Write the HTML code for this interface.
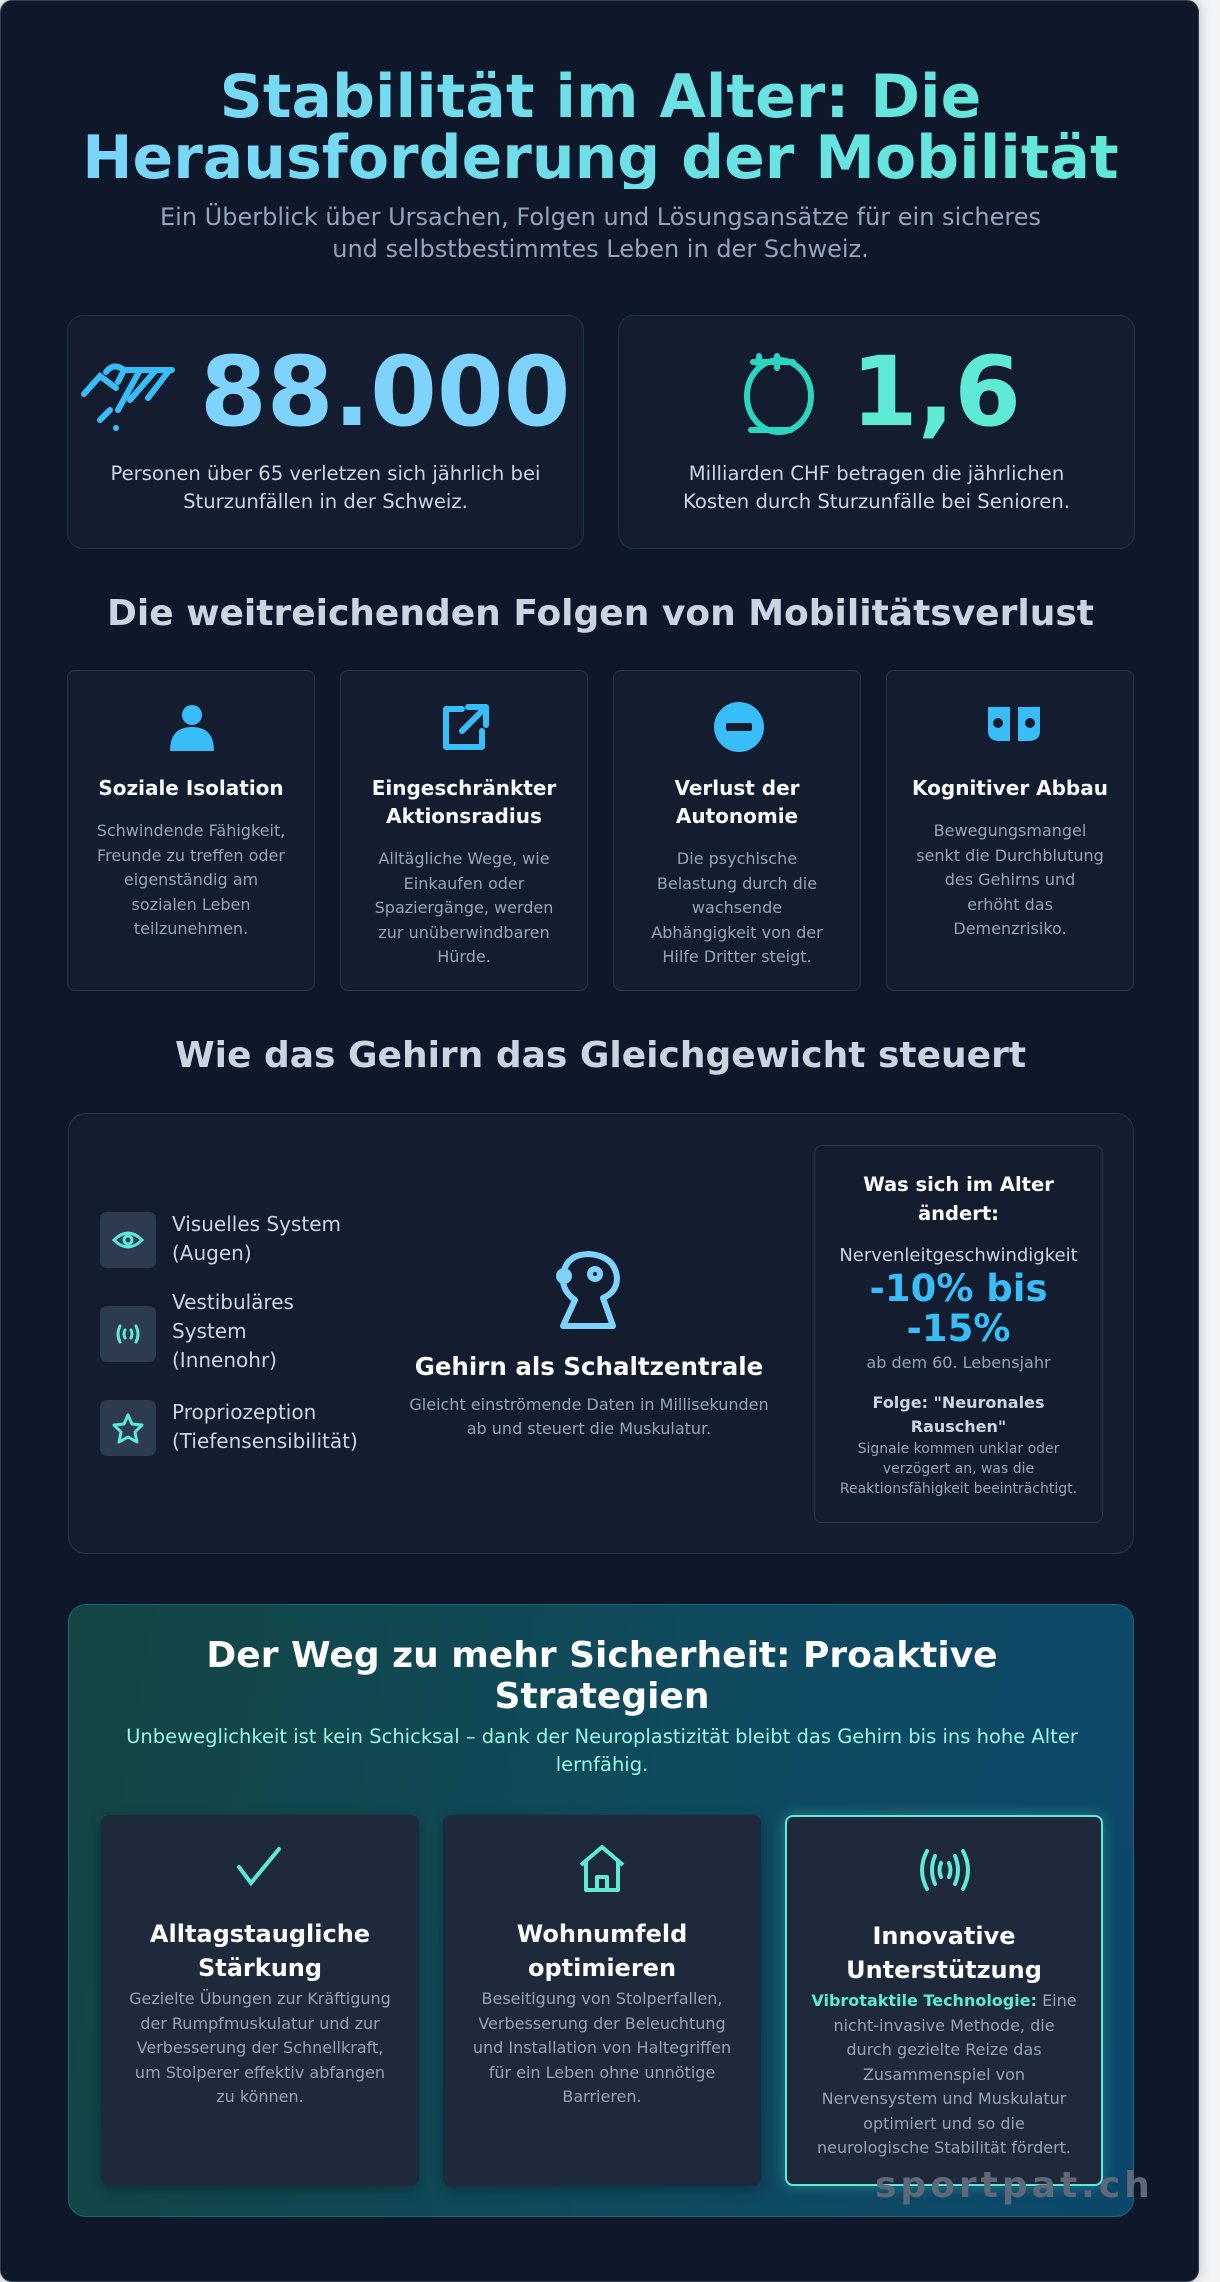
<!DOCTYPE html>
<html><head><meta charset="utf-8"><style>
*{box-sizing:border-box;margin:0;padding:0}
body{width:1220px;height:2282px;background:#f3f4f6;font-family:"DejaVu Sans","Liberation Sans",sans-serif;position:relative;overflow:hidden}
.main{position:absolute;left:0;top:0;width:1199px;height:2282px;background:#0f172a;border-radius:12px;border:1px solid #334155;box-shadow:0 0 12px rgba(0,0,0,.25)}
.abs{position:absolute}
.c{text-align:center}
h1{position:absolute;left:0;width:1199px;top:66px;font-size:60px;line-height:61px;font-weight:bold;text-align:center;background:linear-gradient(90deg,#7dd3fc,#5eead4);-webkit-background-clip:text;background-clip:text;color:transparent}
.sub{top:200px;left:0;width:1199px;font-size:24px;line-height:32px;color:#94a3b8}
.stat{background:#141d2f;border:1px solid #1f3445;border-radius:16px;top:314px;height:234px;width:517px}
.big{font-size:96px;font-weight:bold;line-height:100px}
.stxt{position:absolute;left:0;right:0;top:144px;font-size:19.6px;line-height:28px;color:#cbd5e1;text-align:center}
.h2{left:0;width:1199px;font-size:36px;font-weight:bold;color:#cbd5e1;text-align:center}
.fc{top:669px;width:248px;height:321px;background:#141d2f;border:1px solid #2a3547;border-radius:8px;text-align:center}
.fc svg{position:absolute;left:99px;top:30px}
.fc .t{position:absolute;left:10px;right:10px;top:103px;font-size:20px;font-weight:bold;color:#f8fafc;line-height:28px}
.fc .d{position:absolute;left:29px;right:29px;font-size:16px;line-height:24.5px;color:#94a3b8}
.panel{left:67px;top:1112px;width:1066px;height:441px;background:#141d2f;border:1px solid #2a3547;border-radius:18px}
.ib{position:absolute;left:31px;width:56px;height:56px;background:#2d3b4f;border-radius:7px}
.it{position:absolute;left:103px;font-size:20px;line-height:29px;color:#cbd5e1}
.rb{position:absolute;left:745px;top:31px;width:289px;height:378px;border:1px solid #2a3547;border-radius:8px;text-align:center}
.sp{left:67px;top:1603px;width:1066px;height:613px;border-radius:18px;border:1px solid #176774;background:linear-gradient(100deg,#134543 0%,#0f4a5e 55%,#0c476b 100%)}
.sc{top:210px;width:318px;height:371px;background:#1e293b;border-radius:8px;text-align:center;box-shadow:0 4px 12px rgba(0,0,0,.3)}
.sc svg{position:absolute;left:136px;top:30px}
.sc .t{position:absolute;left:10px;right:10px;top:102px;font-size:24px;font-weight:bold;color:#fff;line-height:34px}
.sc .d{position:absolute;left:24px;right:24px;top:172px;font-size:16px;line-height:24.5px;color:#94a3b8}
</style></head><body>
<div class="main">
<h1>Stabilität im Alter: Die<br>Herausforderung der Mobilität</h1>
<div class="abs sub c">Ein Überblick über Ursachen, Folgen und Lösungsansätze für ein sicheres<br>und selbstbestimmtes Leben in der Schweiz.</div>

<div class="abs stat" style="left:66px">
 <svg class="abs" style="left:12px;top:36px" width="98" height="82" viewBox="0 0 98 82" fill="none" stroke="#38bdf8" stroke-width="6" stroke-linecap="round"><path d="M4 42 L20 24 L36 36 M26 20 q8-10 18-2 l-6 12 M46 18 h46 M60 18 l-22 40 M76 18 l-26 30 M88 20 l-20 26 M30 58 l-10 10"/><circle cx="36" cy="76" r="3" fill="#38bdf8" stroke="none"/></svg>
 <div class="abs big" style="left:132px;top:26px;color:#7dd3fc">88.000</div>
 <div class="stxt">Personen über 65 verletzen sich jährlich bei<br>Sturzunfällen in der Schweiz.</div>
</div>
<div class="abs stat" style="left:617px">
 <svg class="abs" style="left:118px;top:34px" width="84" height="88" viewBox="0 0 84 88" fill="none" stroke="#2dd4bf" stroke-width="6" stroke-linecap="round"><ellipse cx="42" cy="46" rx="32" ry="36"/><path d="M16 12 h40 M22 6 v10 M40 6 v12 M14 80 h40"/></svg>
 <div class="abs big" style="left:232px;top:26px;color:#5eead4">1,6</div>
 <div class="stxt">Milliarden CHF betragen die jährlichen<br>Kosten durch Sturzunfälle bei Senioren.</div>
</div>

<div class="abs h2" style="top:592px">Die weitreichenden Folgen von Mobilitätsverlust</div>

<div class="abs fc" style="left:66px"><svg width="50" height="52" viewBox="0 0 50 52"><circle cx="25" cy="14" r="10" fill="#38bdf8"/><path d="M3 50 q0-24 22-24 q22 0 22 24z" fill="#38bdf8"/></svg>
<div class="t">Soziale Isolation</div><div class="d" style="top:148px;left:22px;right:22px">Schwindende Fähigkeit, Freunde zu treffen oder eigenständig am sozialen Leben teilzunehmen.</div></div>
<div class="abs fc" style="left:339px"><svg width="50" height="52" viewBox="0 0 50 52" fill="none" stroke="#38bdf8" stroke-width="6" stroke-linecap="round" stroke-linejoin="round"><path d="M22 8 H6 V46 H42 V30 M28 6 H46 V24 M46 6 L22 30"/></svg>
<div class="t">Eingeschränkter<br>Aktionsradius</div><div class="d" style="top:176px">Alltägliche Wege, wie Einkaufen oder Spaziergänge, werden zur unüberwindbaren Hürde.</div></div>
<div class="abs fc" style="left:612px"><svg width="52" height="52" viewBox="0 0 52 52"><circle cx="26" cy="26" r="25" fill="#38bdf8"/><rect x="13" y="22" width="26" height="8" rx="2" fill="#141d2f"/></svg>
<div class="t">Verlust der<br>Autonomie</div><div class="d" style="top:176px">Die psychische Belastung durch die wachsende Abhängigkeit von der Hilfe Dritter steigt.</div></div>
<div class="abs fc" style="left:885px"><svg width="56" height="52" viewBox="0 0 56 52"><path d="M2 6 h22 v34 h-10 q-12 0-12-10z M32 6 h22 v24 q0 10-12 10 h-10z" fill="#38bdf8"/><circle cx="12" cy="22" r="5" fill="#141d2f"/><circle cx="44" cy="22" r="5" fill="#141d2f"/></svg>
<div class="t">Kognitiver Abbau</div><div class="d" style="top:148px">Bewegungsmangel senkt die Durchblutung des Gehirns und erhöht das Demenzrisiko.</div></div>

<div class="abs h2" style="top:1034px">Wie das Gehirn das Gleichgewicht steuert</div>

<div class="abs panel">
 <div class="ib" style="top:98px"><svg width="56" height="56" viewBox="0 0 56 56" fill="none" stroke="#5eead4" stroke-width="3"><path d="M14 28 q14-14 28 0 q-14 14-28 0z"/><circle cx="28" cy="28" r="4"/></svg></div>
 <div class="it" style="top:96px">Visuelles System<br>(Augen)</div>
 <div class="ib" style="top:192px"><svg width="56" height="56" viewBox="0 0 56 56" fill="none" stroke="#5eead4" stroke-width="3" stroke-linecap="round"><path d="M20 20 q-4 8 0 16 M36 20 q4 8 0 16 M25 24 q-2 4 0 8 M31 24 q2 4 0 8"/></svg></div>
 <div class="it" style="top:174px">Vestibuläres<br>System<br>(Innenohr)</div>
 <div class="ib" style="top:286px"><svg width="56" height="56" viewBox="0 0 56 56" fill="none" stroke="#5eead4" stroke-width="3" stroke-linejoin="round"><path d="M28 15 l4 9 10 1 -7 7 2 10 -9-5 -9 5 2-10 -7-7 10-1z"/></svg></div>
 <div class="it" style="top:284px">Propriozeption<br>(Tiefensensibilität)</div>
 <svg class="abs" style="left:484px;top:136px" width="74" height="80" viewBox="0 0 74 80" fill="none" stroke="#7dd3fc" stroke-width="6" stroke-linejoin="round"><path d="M10 76 L22 50 Q8 40 10 24 Q14 4 36 4 Q62 6 64 28 Q64 42 50 48 L60 76 Z"/><circle cx="42" cy="24" r="5"/><circle cx="11" cy="26" r="5" fill="#7dd3fc"/></svg>
 <div class="abs c" style="left:290px;width:460px;top:238px;font-size:24.5px;font-weight:bold;color:#fff">Gehirn als Schaltzentrale</div>
 <div class="abs c" style="left:300px;width:440px;top:279px;font-size:16px;line-height:24px;color:#94a3b8">Gleicht einströmende Daten in Millisekunden<br>ab und steuert die Muskulatur.</div>
 <div class="rb">
  <div style="margin-top:24px;font-size:19.5px;font-weight:bold;color:#fff;line-height:29px">Was sich im Alter<br>ändert:</div>
  <div style="margin-top:15px;font-size:18px;color:#cbd5e1;line-height:26px">Nervenleitgeschwindigkeit</div>
  <div style="font-size:37px;font-weight:bold;color:#38bdf8;line-height:40px">-10% bis<br>-15%</div>
  <div style="margin-top:2px;font-size:16px;color:#94a3b8;line-height:24px">ab dem 60. Lebensjahr</div>
  <div style="margin-top:16px;font-size:16px;font-weight:bold;color:#cbd5e1;line-height:24px">Folge: "Neuronales<br>Rauschen"</div>
  <div style="font-size:14px;color:#94a3b8;line-height:20px">Signale kommen unklar oder<br>verzögert an, was die<br>Reaktionsfähigkeit beeinträchtigt.</div>
 </div>
</div>

<div class="abs sp">
 <div class="abs c" style="left:0;width:1066px;top:30px;font-size:36px;font-weight:bold;color:#fff;line-height:41px">Der Weg zu mehr Sicherheit: Proaktive<br>Strategien</div>
 <div class="abs c" style="left:20px;width:1026px;top:118px;font-size:19.5px;line-height:28px;color:#99f6e4">Unbeweglichkeit ist kein Schicksal – dank der Neuroplastizität bleibt das Gehirn bis ins hohe Alter lernfähig.</div>
 <div class="abs sc" style="left:32px"><svg width="46" height="46" viewBox="0 0 46 46" fill="none" stroke="#5eead4" stroke-width="4" stroke-linecap="round"><path d="M2 22 L14 38 L42 4"/></svg>
  <div class="t">Alltagstaugliche<br>Stärkung</div><div class="d">Gezielte Übungen zur Kräftigung der Rumpfmuskulatur und zur Verbesserung der Schnellkraft, um Stolperer effektiv abfangen zu können.</div></div>
 <div class="abs sc" style="left:374px"><svg width="46" height="48" viewBox="0 0 46 48" fill="none" stroke="#5eead4" stroke-width="4" stroke-linejoin="round"><path d="M2 20 L23 2 L44 20 M7 16 V45 H39 V16 M18 45 V32 H28 V45"/></svg>
  <div class="t">Wohnumfeld<br>optimieren</div><div class="d">Beseitigung von Stolperfallen, Verbesserung der Beleuchtung und Installation von Haltegriffen für ein Leben ohne unnötige Barrieren.</div></div>
 <div class="abs sc" style="left:716px;border:2px solid #5eead4;box-shadow:0 0 14px rgba(94,234,212,.35)"><svg width="56" height="46" viewBox="0 0 56 46" fill="none" stroke="#5eead4" stroke-width="4" stroke-linecap="round" style="left:130px"><path d="M10 4 q-10 19 0 38 M18 9 q-6 14 0 28 M24 16 q-3 7 0 14 M46 4 q10 19 0 38 M38 9 q6 14 0 28 M32 16 q3 7 0 14"/></svg>
  <div class="t">Innovative<br>Unterstützung</div><div class="d"><b style="color:#5eead4">Vibrotaktile Technologie:</b> Eine nicht-invasive Methode, die durch gezielte Reize das Zusammenspiel von Nervensystem und Muskulatur optimiert und so die neurologische Stabilität fördert.</div></div>
</div>
<div class="abs" style="left:874px;top:2164px;font-size:36px;font-weight:bold;letter-spacing:4px;color:#5f6878">sportpat.ch</div>
</div>
</body></html>
